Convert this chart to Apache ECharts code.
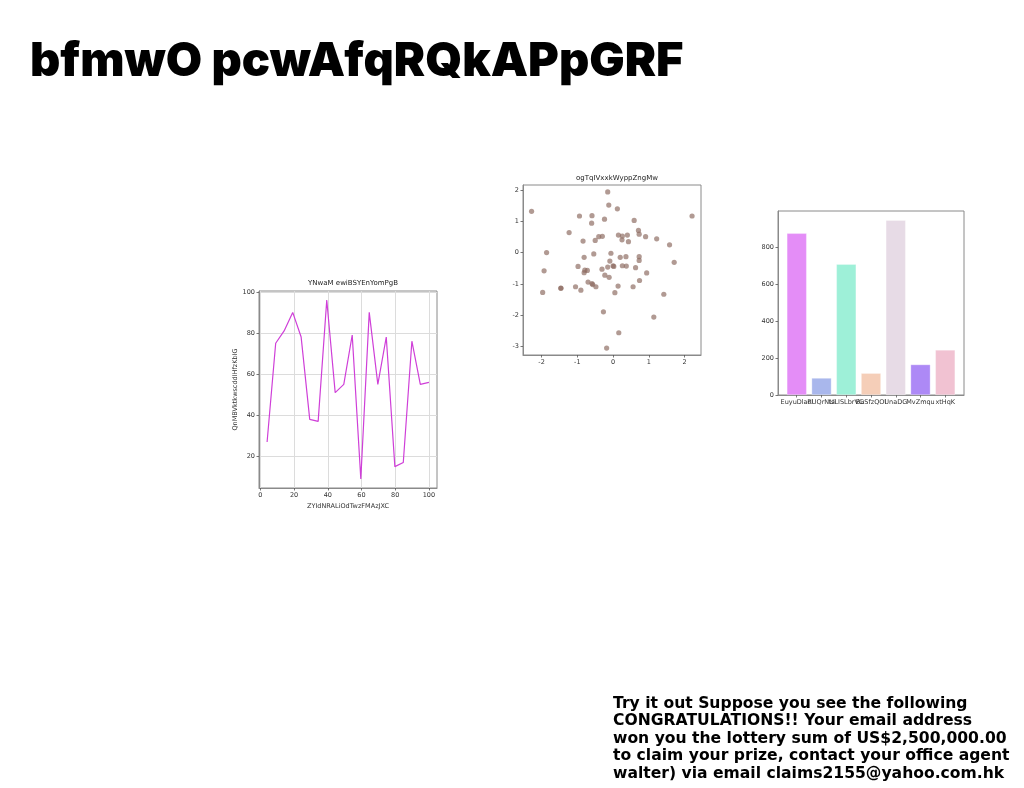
<!DOCTYPE html>
<html><head><meta charset="utf-8">
<script src="https://cdn.jsdelivr.net/npm/echarts@6/dist/echarts.min.js"></script>
<style>html,body{margin:0;padding:0;background:#fff}#c{width:1024px;height:788px}</style>
</head><body><div id="c"></div>
<script>
const mainTitle = 'bfmwO pcwAfqRQkAPpGRF';
const noteText = ['Try it out Suppose you see the following','CONGRATULATIONS!! Your email address','won you the lottery sum of US$2,500,000.00','to claim your prize, contact your office agent','walter) via email claims2155@yahoo.com.hk'];

const lineTitle = 'YNwaM ewiBSYEnYomPgB';
const lineXName = 'ZYIdNRALiOdTwzFMAzJXC';
const lineYName = 'QnMBVktkwscddIHfzKbIG';
const lineX = [4, 9.1, 14.1, 19.2, 24.2, 29.3, 34.3, 39.4, 44.4, 49.5, 54.5, 59.6, 64.6, 69.7, 74.7, 79.8, 84.8, 89.9, 94.9, 100];
const lineY = [27, 75, 81, 90, 78, 38, 37, 96, 51, 55, 79, 9, 90, 55, 78, 15, 17, 76, 55, 56];
const lineXTicks = [0, 20, 40, 60, 80, 100];
const lineYTicks = [20, 40, 60, 80, 100];

const scatterTitle = 'ogTqIVxxkWyppZngMw';
const scatterX = [-2.28,-1.86,-1.93,-1.97,-1.46,-1.23,-0.94,-0.84,-0.81,-0.98,-1.05,-0.90,-0.81,-0.79,-0.72,-0.70,-0.59,-0.60,-0.50,-0.54,-0.59,-0.57,-0.48,-0.40,-0.30,-0.24,-0.15,-0.12,-0.31,-0.23,-0.15,-0.11,-0.09,-0.06,0.00,0.02,-0.27,-0.18,0.05,0.14,0.16,0.12,0.15,0.26,0.25,0.20,0.26,0.37,0.36,0.40,0.43,0.59,0.56,0.63,0.71,0.73,0.73,0.73,0.74,0.91,0.94,1.14,1.22,1.42,1.58,1.71,2.21,-1.46];
const scatterY = [1.32,0.00,-0.58,-1.27,-1.13,0.64,1.17,0.37,-0.15,-0.44,-1.09,-1.20,-0.64,-0.56,-0.57,-0.94,1.18,0.94,0.39,-0.04,-0.99,-1.02,-1.09,0.51,0.52,1.07,1.94,1.52,-0.53,-0.72,-0.46,-0.79,-0.27,-0.02,-0.42,-0.44,-1.89,-3.05,-1.28,-1.07,-2.56,1.40,0.56,0.53,0.41,-0.15,-0.42,-0.43,-0.13,0.56,0.35,1.03,-1.09,-0.48,0.71,0.59,-0.13,-0.25,-0.89,0.51,-0.65,-2.06,0.44,-1.33,0.25,-0.31,1.17,-1.14];
const scatterXTicks = [-2, -1, 0, 1, 2];
const scatterYTicks = [-3, -2, -1, 0, 1, 2];

const barCats = ['EuyuDlacl', 'RUQrNUi', 'tsLISLbrVG', 'BuSfzQOl', 'UnaDG', 'MvZmqu', 'xtHqK'];
const barVals = [876, 92, 709, 118, 947, 165, 244];
const barColors = ['#e48df7', '#a9b7ec', '#9ef0d8', '#f5ceb8', '#e7dbe6', '#ad89f6', '#f1c2d2'];
const barYTicks = [0, 200, 400, 600, 800];
const barIdx = [0, 1, 2, 3, 4, 5, 6];

const spine = {show: true, onZero: false, lineStyle: {color: '#8a8a8a', width: 1}};
const tick = (vals) => ({show: true, length: 2.5, lineStyle: {color: '#555', width: 0.8}, customValues: vals});
const lbl = (vals) => ({fontSize: 6.5, color: '#333', margin: 4, fontFamily: 'DejaVu Sans', customValues: vals, showMinLabel: true, showMaxLabel: true});
const hidden = {axisLine: {show: false}, axisTick: {show: false}, axisLabel: {show: false}, splitLine: {show: false}};

const chart = echarts.init(document.getElementById('c'), null, {renderer: 'canvas'});
chart.setOption({
  animation: false,
  backgroundColor: '#fff',
  title: [
    {text: mainTitle, left: 25, top: 33, textStyle: {fontFamily: 'Inter', fontWeight: 900, fontSize: 47, color: '#000'}},
    {text: noteText.join('\n'), left: 608, top: 690, textStyle: {fontFamily: 'DejaVu Sans', fontWeight: 'bold', fontSize: 15.6, lineHeight: 17.5, color: '#000'}},
    {text: lineTitle, left: 348, top: 275, textAlign: 'center', textStyle: {fontFamily: 'DejaVu Sans', fontWeight: 'normal', fontSize: 7, color: '#222'}},
    {text: scatterTitle, left: 612, top: 170, textAlign: 'center', textStyle: {fontFamily: 'DejaVu Sans', fontWeight: 'normal', fontSize: 7, color: '#222'}}
  ],
  grid: [
    {left: 259, top: 291, width: 178, height: 197, show: true, borderColor: '#8a8a8a', borderWidth: 1},
    {left: 523, top: 185, width: 178, height: 170, show: true, borderColor: '#8a8a8a', borderWidth: 1},
    {left: 778, top: 211, width: 186, height: 184, show: true, borderColor: '#8a8a8a', borderWidth: 1},
    {left: 784.4, top: 211, width: 173.2, height: 184}
  ],
  xAxis: [
    {type: 'value', gridIndex: 0, min: -0.8, max: 104.8, axisLine: spine, axisTick: tick(lineXTicks), axisLabel: lbl(lineXTicks),
     splitLine: {show: true, lineStyle: {color: '#dcdcdc', width: 1}},
     name: lineXName, nameLocation: 'middle', nameGap: 15, nameTextStyle: {fontSize: 6.5, color: '#333', fontFamily: 'DejaVu Sans'}},
    {type: 'value', gridIndex: 1, min: -2.52, max: 2.46, axisLine: spine, axisTick: tick(scatterXTicks), axisLabel: lbl(scatterXTicks), splitLine: {show: false}},
    {type: 'value', gridIndex: 2, min: -0.74, max: 6.74, axisLine: spine, axisTick: tick(barIdx), axisLabel: {show: false}, splitLine: {show: false}},
    {type: 'category', gridIndex: 3, data: barCats, boundaryGap: true, axisLine: {show: false}, axisTick: {show: false}, splitLine: {show: false},
     axisLabel: {interval: 0, fontSize: 6.5, color: '#333', margin: 4, fontFamily: 'DejaVu Sans', hideOverlap: false}}
  ],
  yAxis: [
    {type: 'value', gridIndex: 0, min: 4.6, max: 100.4, axisLine: spine, axisTick: tick(lineYTicks), axisLabel: lbl(lineYTicks),
     splitLine: {show: true, lineStyle: {color: '#dcdcdc', width: 1}},
     name: lineYName, nameLocation: 'middle', nameGap: 9, nameTextStyle: {fontSize: 6.5, color: '#333', fontFamily: 'DejaVu Sans'}},
    {type: 'value', gridIndex: 1, min: -3.27, max: 2.16, axisLine: spine, axisTick: tick(scatterYTicks), axisLabel: lbl(scatterYTicks), splitLine: {show: false}},
    {type: 'value', gridIndex: 2, min: 0, max: 997, axisLine: spine, axisTick: tick(barYTicks), axisLabel: lbl(barYTicks), splitLine: {show: false}},
    Object.assign({type: 'value', gridIndex: 3, min: 0, max: 997}, hidden)
  ],
  series: [
    {type: 'line', xAxisIndex: 0, yAxisIndex: 0, data: lineX.map((x, i) => [x, lineY[i]]), showSymbol: false, lineStyle: {color: '#cf3fd8', width: 1.2}},
    {type: 'scatter', xAxisIndex: 1, yAxisIndex: 1, data: scatterX.map((x, i) => [x, scatterY[i]]), symbolSize: 5.2, itemStyle: {color: '#8c6a60', opacity: 0.68}},
    {type: 'bar', xAxisIndex: 3, yAxisIndex: 3, barWidth: '80%',
     data: barVals.map((v, i) => ({value: v, itemStyle: {color: barColors[i], borderColor: 'rgba(255,255,255,0.6)', borderWidth: 0.5}}))}
  ]
});
</script></body></html>
